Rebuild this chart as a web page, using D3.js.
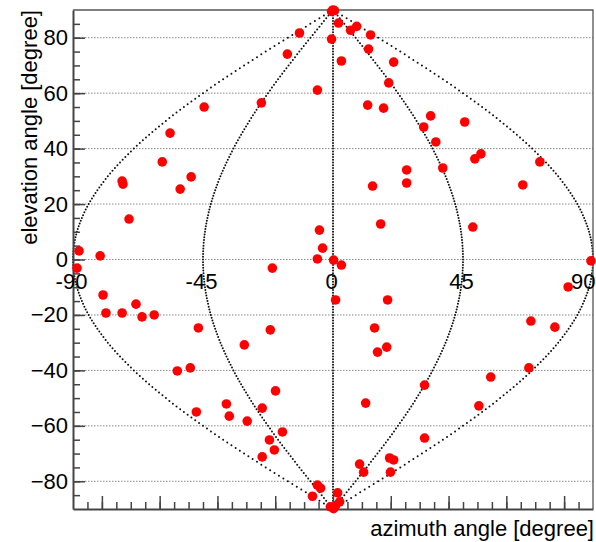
<!DOCTYPE html>
<html>
<head>
<meta charset="utf-8">
<script src="https://cdn.jsdelivr.net/npm/d3@7"></script>
<style>
  html, body { margin: 0; padding: 0; background: #fff; }
  svg { display: block; }
  text { font-family: "Liberation Sans", Arial, Helvetica, sans-serif; fill: #000; }
</style>
</head>
<body>
<svg id="chart" width="596" height="542"></svg>
<script>
// Sky positions in sinusoidal projection: x = azimuth * cos(elevation)
const projX = [
  -11.6, -15.8, -24.8, -44.6, -56.4, -59.1, -49.1, -52.9, -73.0, -72.7,
  -70.6, -87.9, -80.6, -88.6, -21.0,
  0.0, -0.5, 0.5, 1.9, 6.1, 8.2, 13.0, -0.5, 12.3, 2.9,
  21.0, 19.3, -5.4, 12.0, 17.5, 33.8, 31.4, 45.6, 35.6, 51.2,
  49.1, 71.6, 38.0, 25.5, 25.5, 13.7, 65.7, 16.5, 48.4, -4.7,
  -3.6, -5.4, 0.2, 2.9, 89.3,
  -79.6, -78.6, -73.0, -68.2, -66.1, -61.9, -46.6, -21.7, -30.7, -53.9,
  -49.4, -19.9, -47.3, -36.9, -35.9, -24.5, -29.7, -17.5, -22.0, -20.3,
  -24.5,
  81.4, 0.9, 18.9, 14.4, 68.5, 76.8, 18.6, 15.4, 67.8, 31.7,
  54.6, 11.3, 50.5, 31.7, 19.6, 21.0, 9.2, 10.6, 19.9, -5.4,
  -4.3, -7.1, 1.6, 2.3, -0.9, 0.2, 0.9
];
const elevation = [
  81.7, 74.1, 56.5, 55.0, 45.6, 35.2, 29.8, 25.4, 28.3, 27.2,
  14.6, 3.1, 1.3, -3.1, -3.1,
  90.0, 89.5, 89.8, 85.3, 82.7, 84.1, 81.0, 79.5, 75.9, 71.6,
  71.2, 63.7, 61.1, 55.7, 54.6, 51.8, 47.8, 49.6, 42.4, 38.1,
  36.3, 35.2, 33.0, 32.3, 27.6, 26.5, 26.9, 12.8, 11.7, 10.6,
  4.1, 0.2, -0.2, -2.0, -0.5,
  -12.8, -19.3, -19.3, -16.1, -20.7, -20.0, -24.7, -25.4, -30.8, -40.2,
  -39.1, -47.4, -55.0, -52.1, -56.5, -53.6, -58.3, -62.2, -65.1, -68.7,
  -71.2,
  -9.9, -14.6, -14.6, -24.7, -22.2, -24.4, -31.6, -33.4, -39.1, -45.3,
  -42.4, -51.8, -52.8, -64.4, -71.6, -72.3, -73.8, -76.7, -76.7, -81.4,
  -82.5, -85.4, -84.2, -87.4, -89.2, -89.9, -88.8
];

// Meridians drawn as dotted guide curves
const meridianAzimuths = [-90, -45, 0, 45, 90];
const azimuthLabels = ["-90", "-45", "0", "45", "90"];
const elevationTicks = [-80, -60, -40, -20, 0, 20, 40, 60, 80];

const svg = d3.select("#chart");
const frameL = 73, frameR = 593, frameT = 10, frameB = 509;

const x = d3.scaleLinear().domain([-90, 90]).range([frameL, frameR]);
const y = d3.scaleLinear().domain([-90, 90]).range([frameB, frameT]);

// horizontal dotted grid
svg.append("g")
  .selectAll("line")
  .data(elevationTicks)
  .join("line")
  .attr("x1", frameL).attr("x2", frameR)
  .attr("y1", d => y(d)).attr("y2", d => y(d))
  .attr("stroke", "#8a8a8a")
  .attr("stroke-width", 1)
  .attr("stroke-dasharray", "1.5,1.5");

// meridian curves as dots sampled every degree of elevation
const merG = svg.append("g");
const sampleEl = d3.range(-90, 91, 1);
meridianAzimuths.forEach(az => {
  merG.append("g")
    .selectAll("circle")
    .data(sampleEl)
    .join("circle")
    .attr("cx", el => x(az * Math.cos(el * Math.PI / 180)))
    .attr("cy", el => y(el))
    .attr("r", 1)
    .attr("fill", "#111");
});

// frame top/right
svg.append("path")
  .attr("d", `M${frameL},${frameT}H${frameR}V${frameB}`)
  .attr("fill", "none")
  .attr("stroke", "#555")
  .attr("stroke-width", 1.3);

// bottom axis: minor + major ticks pointing inward
const tickStyle = g => {
  g.selectAll(".tick line").attr("stroke", "#444").attr("stroke-width", 1.5);
  g.selectAll(".tick text").remove();
};
svg.append("g")
  .attr("transform", `translate(0,${frameB})`)
  .call(d3.axisBottom(x).tickValues(d3.range(-85, 90, 5)).tickSize(-7).tickFormat(""))
  .call(g => g.select(".domain").remove())
  .call(tickStyle);
svg.append("g")
  .attr("transform", `translate(0,${frameB})`)
  .call(d3.axisBottom(x).tickValues(d3.range(-80, 81, 20)).tickSize(-13).tickSizeOuter(0).tickFormat(""))
  .call(g => g.select(".domain").attr("stroke", "#444").attr("stroke-width", 2))
  .call(tickStyle);

// left axis
svg.append("g")
  .attr("transform", `translate(${frameL},0)`)
  .call(d3.axisLeft(y).tickValues(d3.range(-85, 90, 5)).tickSize(-7).tickFormat(""))
  .call(g => g.select(".domain").remove())
  .call(tickStyle);
svg.append("g")
  .attr("transform", `translate(${frameL},0)`)
  .call(d3.axisLeft(y).tickValues(elevationTicks).tickSize(-12).tickSizeOuter(0).tickPadding(5))
  .call(g => g.select(".domain").attr("stroke", "#444").attr("stroke-width", 2))
  .call(g => {
    g.selectAll(".tick line").attr("stroke", "#444").attr("stroke-width", 1.5);
    g.selectAll(".tick text")
      .attr("font-size", 22)
      .attr("font-family", "'Liberation Sans', Arial, Helvetica, sans-serif")
      .attr("fill", "#000");
  });

// data points
svg.append("g")
  .selectAll("circle")
  .data(projX.map((v, i) => [v, elevation[i]]))
  .join("circle")
  .attr("cx", d => x(d[0]))
  .attr("cy", d => y(d[1]))
  .attr("r", 4.8)
  .attr("fill", "#ff0000");

// azimuth labels along the equator
svg.append("g")
  .attr("transform", `translate(-2,${y(0)})`)
  .call(d3.axisBottom(x).tickValues(meridianAzimuths).tickSize(0).tickPadding(14)
    .tickFormat((d, i) => azimuthLabels[i]))
  .call(g => g.select(".domain").remove())
  .call(g => g.selectAll(".tick text")
    .attr("font-size", 22)
    .attr("font-family", "'Liberation Sans', Arial, Helvetica, sans-serif")
    .attr("fill", "#000")
    // keep the rightmost label inside the window
    .filter(d => d === 90)
    .attr("text-anchor", "end")
    .attr("x", 4));

// axis titles
svg.append("text")
  .attr("x", 594).attr("y", 536)
  .attr("text-anchor", "end")
  .attr("font-size", 22)
  .text("azimuth angle [degree]");

svg.append("text")
  .attr("transform", "translate(37,10) rotate(-90)")
  .attr("text-anchor", "end")
  .attr("font-size", 22)
  .text("elevation angle [degree]");
</script>
</body>
</html>
